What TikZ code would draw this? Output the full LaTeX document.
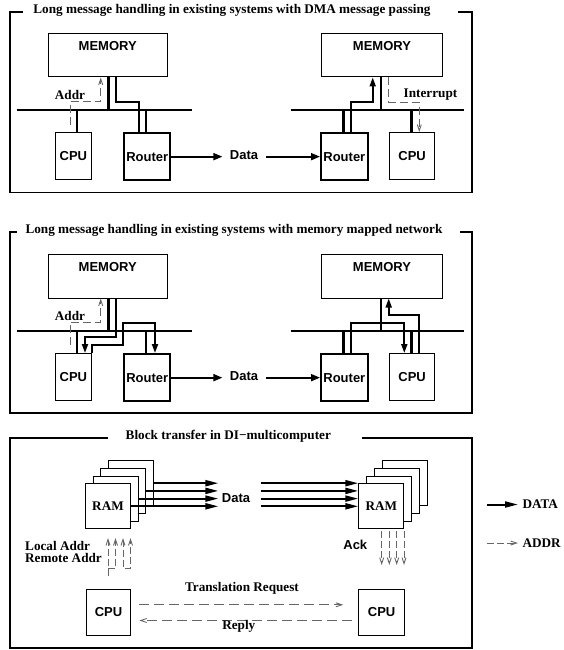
\documentclass[tikz,border=0pt]{standalone}
\usepackage{fontspec}
\setmainfont{Liberation Serif}
\newfontfamily\hv{Liberation Sans}
\usetikzlibrary{arrows.meta}
\definecolor{dgray}{gray}{0.4}
\tikzset{
  box/.style={draw, line width=1pt, fill=white, inner sep=0pt, anchor=north west},
  rbox/.style={box, line width=2pt},
  sf/.style={font=\hv\bfseries\fontsize{13}{15}\selectfont},
  rm/.style={font=\bfseries\fontsize{13.2}{15}\selectfont},
  frame/.style={line width=1.7pt},
  bus/.style={line width=2.8pt},
  conn/.style={line width=2.8pt},
  dpath/.style={line width=1.8pt},
  dline/.style={line width=1.8pt, -{Triangle[length=9pt,width=7pt]}},
  ptip/.style={-{Triangle[length=9pt,width=6pt]}},
  addr/.style={line width=0.9pt, draw=dgray, dash pattern=on 8pt off 4pt, -{Straight Barb[length=6pt,width=4pt]}},
  addrv/.style={line width=0.9pt, draw=dgray, dash pattern=on 7pt off 3pt},
  obarb/.style={-{Straight Barb[length=6pt,width=4pt]}},
  darr/.style={line width=2pt, -{Triangle[length=13pt,width=6pt]}},
}
\begin{document}
\begin{tikzpicture}[x=1pt,y=-1pt]
\useasboundingbox[fill=white] (0,0) rectangle (563,650);

%% ================= Panel 1 =================
\draw[frame] (22.5,11.7) -- (10,11.7) -- (10,192.5) -- (471.7,192.5) -- (471.7,11.7) -- (458.3,11.7);
\node[rm] (t1) at (232,10.5) {Long message handling in existing systems with DMA message passing};

\node[box, minimum width=119pt, minimum height=43.2pt, label={[sf,anchor=north,yshift=-5pt]north:MEMORY}] (m1a) at (47.7,33.3) {};
\node[box, minimum width=121.6pt, minimum height=43.2pt, label={[sf,anchor=north,yshift=-5pt]north:MEMORY}] (m1b) at (320.7,33.3) {};
\node[box, minimum width=35.7pt, minimum height=47.3pt, sf] (c1a) at (55,132) {CPU};
\node[rbox, minimum width=46pt, minimum height=47.3pt, sf] (r1a) at (123.3,132) {Router};
\node[rbox, minimum width=46.7pt, minimum height=47.3pt, sf] (r1b) at (320,132) {Router};
\node[box, minimum width=45.3pt, minimum height=47.3pt, sf] (c1b) at (389,132) {CPU};

\draw[bus] (16.7,110) -- (191.7,110);
\draw[bus] (290.7,110) -- (464.3,110);

% left system
\draw[conn] (108.3,0 |- m1a.south) -- (108.3,110);
\draw[conn] (77,110) -- (77,0 |- c1a.north);
\draw[conn] (146,110) -- (146,0 |- r1a.north);
\draw[dpath] (116,0 |- m1a.south) -- (116,101.7) -- (139,101.7) -- (139,0 |- r1a.north);
\draw[addr] (70,125) -- (70,101.7) -- (100.7,101.7) -- (100.7,0 |- m1a.south);
\node[rm] (a1) at (70,94.7) {Addr};

% right system
\draw[conn] (381,0 |- m1b.south) -- (381,110);
\draw[conn] (343.3,110) -- (343.3,0 |- r1b.north);
\draw[conn] (411.7,110) -- (411.7,0 |- c1b.north);
\draw[dpath, ptip] (350.7,0 |- r1b.north) -- (350.7,102.3) -- (372.7,102.3) -- (372.7,0 |- m1b.south);
\draw[addr] (388.7,0 |- m1b.south) -- (388.7,102.3) -- (419.3,102.3) -- (419.3,0 |- c1b.north);
\node[rm] (i1) at (430.5,94.3) {Interrupt};

% data
\node[sf] (d1) at (244,155) {Data};
\draw[dline, shorten >=4pt] (r1a.east) -- (r1a.east -| d1.west);
\draw[dline, shorten <=4.5pt] (r1a.east -| d1.east) -- (r1b.west);

%% ================= Panel 2 =================
\draw[frame] (16.7,231.7) -- (10,231.7) -- (10,413.3) -- (471.7,413.3) -- (471.7,231.7) -- (460,231.7);
\node[rm] (t2) at (234,230.5) {Long message handling in existing systems with memory mapped network};

\node[box, minimum width=119pt, minimum height=43.2pt, label={[sf,anchor=north,yshift=-5pt]north:MEMORY}] (m2a) at (47.7,254.3) {};
\node[box, minimum width=121.6pt, minimum height=43.2pt, label={[sf,anchor=north,yshift=-5pt]north:MEMORY}] (m2b) at (320.7,254.3) {};
\node[box, minimum width=35.7pt, minimum height=47.3pt, sf] (c2a) at (55,353) {CPU};
\node[rbox, minimum width=46pt, minimum height=47.3pt, sf] (r2a) at (123.3,353) {Router};
\node[rbox, minimum width=46.7pt, minimum height=47.3pt, sf] (r2b) at (320,353) {Router};
\node[box, minimum width=45.3pt, minimum height=47.3pt, sf] (c2b) at (389,353) {CPU};

\draw[bus] (16.7,331) -- (191.7,331);
\draw[bus] (290.7,331) -- (464.3,331);

% left system
\draw[conn] (108.3,0 |- m2a.south) -- (108.3,331);
\draw[conn] (77,331) -- (77,0 |- c2a.north);
\draw[conn] (146,331) -- (146,0 |- r2a.north);
\draw[addr] (70,345) -- (70,322.3) -- (100.7,322.3) -- (100.7,0 |- m2a.south);
\node[rm] (a2) at (70,315.5) {Addr};
\draw[dpath, ptip] (116,0 |- m2a.south) -- (116,336.7) -- (85,336.7) -- (85,0 |- c2a.north);
\draw[dpath, ptip] (91.7,0 |- c2a.north) -- (91.7,345) -- (122.7,345) -- (122.7,323.3) -- (155,323.3) -- (155,0 |- r2a.north);

% right system
\draw[conn] (381,0 |- m2b.south) -- (381,331);
\draw[conn] (343.3,331) -- (343.3,0 |- r2b.north);
\draw[conn] (411.7,331) -- (411.7,0 |- c2b.north);
\draw[dpath, ptip] (350.7,0 |- r2b.north) -- (350.7,323.3) -- (404.3,323.3) -- (404.3,0 |- c2b.north);
\draw[dpath, ptip] (419.3,0 |- c2b.north) -- (419.3,315) -- (388.7,315) -- (388.7,0 |- m2b.south);

% data
\node[sf] (d2) at (244,376) {Data};
\draw[dline, shorten >=4pt] (r2a.east) -- (r2a.east -| d2.west);
\draw[dline, shorten <=4.5pt] (r2a.east -| d2.east) -- (r2b.west);

%% ================= Panel 3 =================
\draw[frame] (108.3,437.7) -- (10,437.7) -- (10,648) -- (471.7,648) -- (471.7,437.7) -- (361.7,437.7);
\node[rm] (t3) at (228.3,436.5) {Block transfer in DI\textminus multicomputer};

% left RAM stack
\node[box, minimum width=45pt, minimum height=45pt] (ramLd) at (108.1,460.2) {};
\node[box, minimum width=45pt, minimum height=45pt] (ramLc) at (100.4,467.9) {};
\node[box, minimum width=45pt, minimum height=45pt] (ramLb) at (92.7,475.6) {};
\node[box, minimum width=45pt, minimum height=45pt, rm] (ramLa) at (85,483.3) {RAM};
% right RAM stack
\node[box, minimum width=45pt, minimum height=45pt] (ramRd) at (381.7,460.2) {};
\node[box, minimum width=45pt, minimum height=45pt] (ramRc) at (373.9,467.9) {};
\node[box, minimum width=45pt, minimum height=45pt] (ramRb) at (366.1,475.6) {};
\node[box, minimum width=45pt, minimum height=45pt, rm] (ramRa) at (358.3,483.3) {RAM};

\node[sf] (d3) at (236,498.3) {Data};
\foreach \r in {ramLd,ramLc,ramLb,ramLa}{
  \draw[darr] (\r.east) -- (\r.east -| d3.west);
  \draw[darr, shorten <=7pt] (\r.east -| d3.east) -- (\r.east -| ramRa.west);
}

% CPUs
\node[box, minimum width=44pt, minimum height=46pt, sf] (cpuL) at (86,589) {CPU};
\node[box, minimum width=45.7pt, minimum height=46pt, sf] (cpuR) at (358.3,589) {CPU};

% address lines (left)
\draw[addrv, obarb] (108,576) -- (108,538);
\draw[addrv, obarb] (108,568) -- (115.5,568) -- (115.5,538);
\draw[addrv, {Straight Barb[length=6pt,width=4pt]}-{Straight Barb[length=6pt,width=4pt]}] (123,538) -- (123,568) -- (130.5,568) -- (130.5,538);
\node[rm, anchor=west, align=left, inner sep=0pt] (la) at (25,552) {Local Addr\\[-3pt]Remote Addr};

% ack lines (right)
\foreach \x in {381.7,389.3,396.7,404}{
  \draw[addrv, obarb] (\x,531) -- (\x,565);
}
\node[sf] (ack) at (355.3,545) {Ack};

% translation / reply
\draw[addrv, dash pattern=on 10pt off 5pt, obarb, shorten <=8.3pt, shorten >=15pt] ([yshift=7.7pt]cpuL.east) -- ([yshift=7.7pt]cpuR.west);
\node[rm] (tr) at (242,588.3) {Translation Request};
\draw[addrv, dash pattern=on 10pt off 5pt, obarb, shorten <=6.6pt, shorten >=8.3pt] ([yshift=-8pt]cpuR.west) -- ([yshift=-8pt]cpuL.east);
\node[rm] (rp) at (238.8,626.7) {Reply};

%% ================= Legend =================
\coordinate (lg1a) at (487.3,504.5);
\coordinate (lg1b) at (518,504.5);
\draw[darr] (lg1a) -- (lg1b);
\node[rm, anchor=west, inner sep=0pt] (lgd) at (522.3,504.5) {DATA};
\coordinate (lg2a) at (487.3,543);
\coordinate (lg2b) at (518,543);
\draw[addrv, obarb] (lg2a) -- (lg2b);
\node[rm, anchor=west, inner sep=0pt] (lga) at (522.3,543) {ADDR};
\end{tikzpicture}
\end{document}
